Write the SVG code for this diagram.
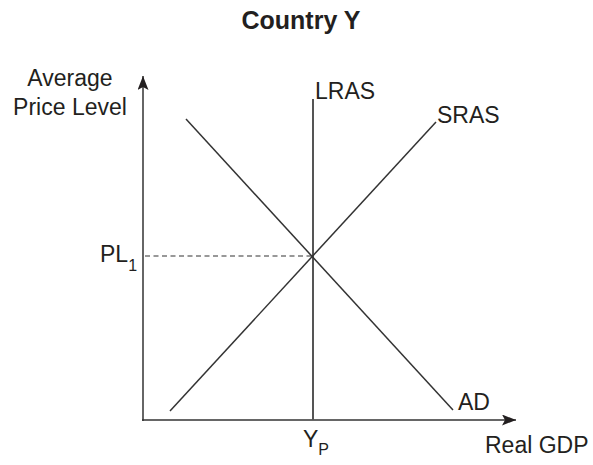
<svg xmlns="http://www.w3.org/2000/svg" width="593" height="465" viewBox="0 0 593 465">
<defs>
<marker id="arr" viewBox="0 0 14 11" refX="14" refY="5.5" markerWidth="14" markerHeight="11" markerUnits="userSpaceOnUse" orient="auto">
<path d="M0,0 L14,5.5 L0,11 L3,5.5 Z" fill="#231f20"/>
</marker>
</defs>
<style>
text{font-family:"Liberation Sans",Arial,sans-serif;fill:#231f20;font-size:23px}
.ln{stroke:#333;stroke-width:1.5;fill:none}
.title{font-weight:bold;font-size:25px}
.sub{font-size:16px}
</style>
<rect width="593" height="465" fill="#fff"/>
<text class="title" x="301" y="29" text-anchor="middle">Country Y</text>
<g id="axes">
<line class="ln" x1="143" y1="421" x2="143" y2="76" marker-end="url(#arr)"/>
<line class="ln" x1="142" y1="420" x2="516" y2="420" marker-end="url(#arr)"/>
<text x="70" y="86" text-anchor="middle">Average</text>
<text x="70" y="115" text-anchor="middle">Price Level</text>
<text x="485" y="453">Real GDP</text>
</g>
<g id="connectors">
<line class="ln" x1="145" y1="256" x2="313" y2="256" stroke-dasharray="5,3.5" style="stroke-width:1.2"/>
</g>
<g id="LRAS">
<line class="ln" x1="313" y1="99" x2="313" y2="420" style="stroke-width:2;stroke:#555"/>
<text x="315" y="99">LRAS</text>
</g>
<g id="SRAS">
<line class="ln" x1="170" y1="411" x2="436" y2="122"/>
<text x="437" y="123">SRAS</text>
</g>
<g id="AD">
<line class="ln" x1="186" y1="119" x2="453" y2="410"/>
<text x="458" y="410">AD</text>
</g>
<g id="PL1">
<text x="100" y="262">PL<tspan class="sub" dy="9">1</tspan></text>
</g>
<g id="YP">
<text x="303" y="447">Y<tspan class="sub" dy="8">P</tspan></text>
</g>
</svg>
